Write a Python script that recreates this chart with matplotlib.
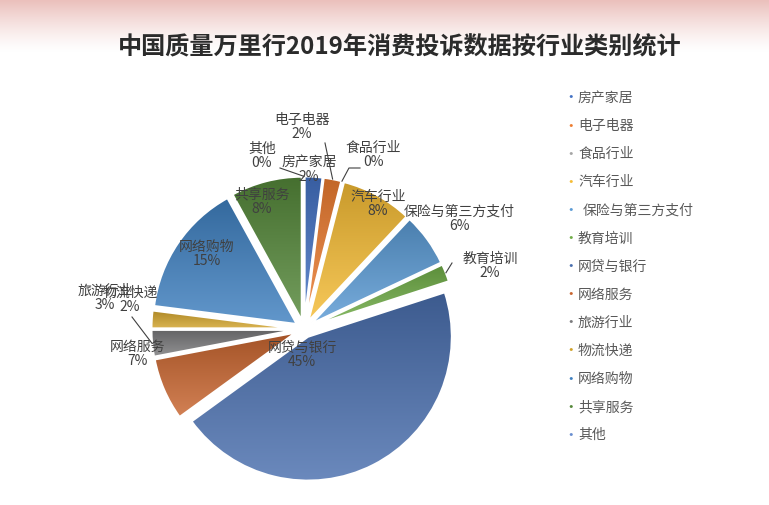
import numpy as np
import matplotlib
matplotlib.use('Agg')
import matplotlib.pyplot as plt
from matplotlib.colors import to_rgb

plt.rcParams['font.family'] = ['Noto Sans CJK SC', 'DejaVu Sans']

# ---------------- data ----------------
title = '中国质量万里行2019年消费投诉数据按行业类别统计'
categories = ['房产家居', '电子电器', '食品行业', '汽车行业', '保险与第三方支付', '教育培训',
              '网贷与银行', '网络服务', '旅游行业', '物流快递', '网络购物', '共享服务', '其他']
values = [2, 2, 0, 8, 6, 2, 45, 7, 3, 2, 15, 8, 0]
colors = ['#4472C4', '#ED7D31', '#A5A5A5', '#F5BC35', '#5B9BD5', '#70AD47',
          '#4A6FAE', '#C8652F', '#7A7A7C', '#D0A22A', '#3F80C0', '#55883A', '#698ED0']

# ---------------- layout (pixels, from top-left) ----------------
W, H = 769, 505
CX, CY, R = 304, 329, 144
label_pos = {  # centre of label block
    '房产家居': (309, 170), '电子电器': (302, 127), '食品行业': (373, 155),
    '汽车行业': (378, 204), '保险与第三方支付': (459, 219), '教育培训': (490, 266),
    '网贷与银行': (302, 355), '网络服务': (138, 354), '旅游行业': (105, 298),
    '物流快递': (130, 300), '网络购物': (207, 254), '共享服务': (262, 202),
    '其他': (262, 156),
}
leader_start = {  # where leader line leaves the label
    '其他': (280, 168), '电子电器': (325, 143), '食品行业': (360, 168),
    '教育培训': (452, 263), '旅游行业': (132, 317),
}

fig = plt.figure(figsize=(W / 100, H / 100), dpi=100)

# background pink band at top
bg = fig.add_axes([0, 0, 1, 1], zorder=-10)
bg.axis('off')
rows = np.linspace(0, 1, H)
top = np.array(to_rgb('#ebc0bc'))
fade = np.clip(1 - rows * H / 52, 0, 1) ** 1.3
img = np.ones((H, 1, 3)) * (1 - fade[:, None, None]) + top[None, None, :] * fade[:, None, None]
bg.imshow(img, aspect='auto', extent=[0, 1, 0, 1], origin='upper')
bg.set_xlim(0, 1)
bg.set_ylim(0, 1)

# pie axes
span = 1.5
size_px = 2 * span * R
ax = fig.add_axes([(CX - size_px / 2) / W, ((H - CY) - size_px / 2) / H, size_px / W, size_px / H])
ax.set_xlim(-span, span)
ax.set_ylim(-span, span)
ax.set_aspect('equal')
ax.axis('off')

explode = [0.06] * len(values)
wedges, _ = ax.pie(values, colors=colors, startangle=90, counterclock=False,
                   explode=explode, radius=1.0,
                   wedgeprops=dict(linewidth=1.6, edgecolor='white'))

# vertical gradient fill per wedge (darker top, lighter bottom)
for w, c in zip(wedges, colors):
    if w.theta2 - w.theta1 < 1e-6:
        continue
    base = np.array(to_rgb(c))
    dark = base * 0.82
    light = base + (1 - base) * 0.18
    ext = w.get_path().get_extents()
    t = np.linspace(0, 1, 64)[:, None, None]
    g = dark[None, None, :] * (1 - t) + light[None, None, :] * t
    im = ax.imshow(g, extent=[ext.x0, ext.x1, ext.y0, ext.y1], origin='upper',
                   aspect='auto', zorder=w.get_zorder() + 0.1)
    im.set_clip_path(w)
    w.set_facecolor('none')
    w.set_zorder(w.get_zorder() + 0.2)
ax.set_xlim(-span, span)
ax.set_ylim(-span, span)

total = sum(values)
txt_color = '#404040'
for cat, v, w in zip(categories, values, wedges):
    px, py = label_pos[cat]
    fig.text(px / W, 1 - py / H, f'{cat}\n{v / total * 100:.0f}%', ha='center', va='center',
             fontsize=10, color=txt_color, linespacing=1.05, zorder=5)
    if cat in leader_start:
        ang = np.deg2rad((w.theta1 + w.theta2) / 2)
        ex, ey = w.center
        xd, yd = ex + 1.0 * np.cos(ang), ey + 1.0 * np.sin(ang)
        fx, fy = ax.transData.transform((xd, yd))
        sx, sy = leader_start[cat]
        sy = H - sy
        if cat == '食品行业':
            xs = [sx, fx + 7, fx]
            ys = [sy, sy, fy]
        else:
            xs = [sx, fx]
            ys = [sy, fy]
        fig.add_artist(plt.Line2D(np.array(xs) / W, np.array(ys) / H, color='#404040',
                                  linewidth=0.8, transform=fig.transFigure, zorder=6))

# title
fig.text(400 / W, 1 - 47 / H, title, ha='center', va='center', fontsize=17.4,
         fontweight='bold', color='#2b2b2b')

# legend (manual)
for i, (cat, c) in enumerate(zip(categories, colors)):
    y = 98 + i * 28.1
    fig.text(571 / W, 1 - y / H, '·', ha='center', va='center', fontsize=9,
             color=c, fontweight='bold')
    off = 5 if cat == '保险与第三方支付' else 0
    fig.text((578 + off) / W, 1 - y / H, cat, ha='left', va='center', fontsize=10,
             color='#595959')

fig.savefig('out.png', dpi=100)
